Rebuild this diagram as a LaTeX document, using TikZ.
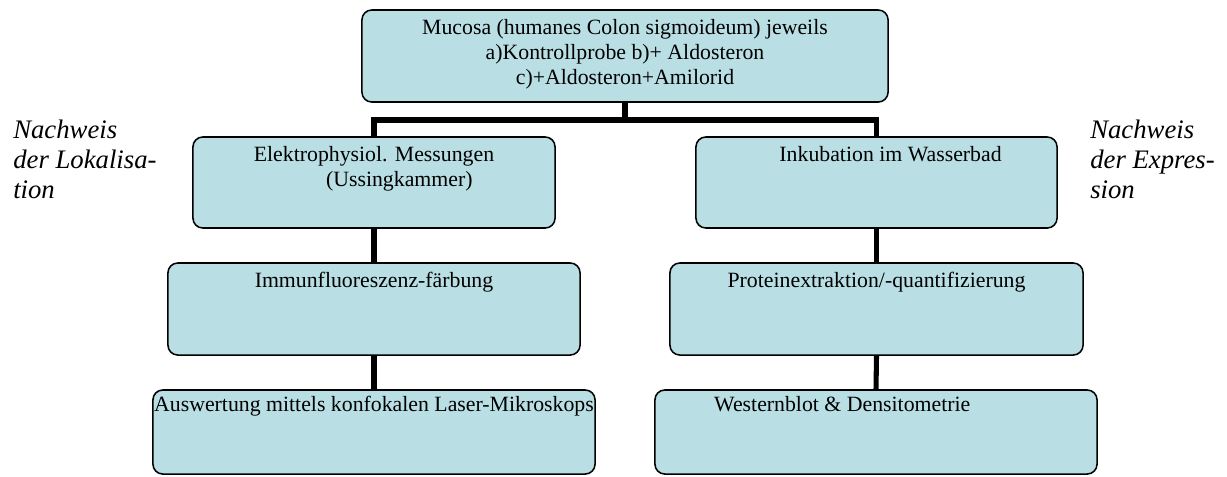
\documentclass[tikz,border=0pt]{standalone}
\usepackage{fontspec}
\setmainfont{Liberation Serif}
\usepackage{tikz}

\definecolor{kastenblau}{RGB}{185,223,228}
\newcommand\kastenschrift{\fontsize{15.5}{17.8}\selectfont}
\newcommand\seitenschrift{\fontsize{19}{21.3}\selectfont\itshape}

\tikzset{
  kasten/.style={draw=black, line width=1.1pt, rounded corners=7pt, fill=kastenblau, inner sep=0pt},
  kastentext/.style={anchor=north, align=center, font=\kastenschrift, inner sep=0pt, yshift=-7pt},
  verbindung/.style={line width=3.6pt},
  seitentext/.style={anchor=north west, align=left, font=\seitenschrift, inner sep=0pt}
}

\begin{document}
\begin{tikzpicture}[x=0.025cm, y=-0.025cm]
  \useasboundingbox (0,0) rectangle (1227,476);

  % Ausgangsmaterial
  \node[kasten, minimum width=13.15cm, minimum height=2.3cm,
    label={[kastentext]north:Mucosa (humanes Colon sigmoideum) jeweils\\a)Kontrollprobe b)+ Aldosteron\\c)+Aldosteron+Amilorid}]
    (mucosa) at (625,56) {};

  % linker Zweig
  \node[kasten, minimum width=9.05cm, minimum height=2.275cm,
    label={[kastentext]north:Elektrophysiol. Messungen\\\hspace*{36pt}(Ussingkammer)}]
    (elektro) at (374,182.5) {};
  \node[kasten, minimum width=10.3cm, minimum height=2.3cm,
    label={[kastentext]north:Immunfluoreszenz-f\"arbung}]
    (immun) at (374,309) {};
  \node[kasten, minimum width=11.05cm, minimum height=2.1cm,
    label={[kastentext, yshift=2pt]north:Auswertung mittels konfokalen Laser-Mikroskops}]
    (auswertung) at (374,432) {};

  % rechter Zweig
  \node[kasten, minimum width=9.025cm, minimum height=2.275cm,
    label={[kastentext, xshift=10pt]north:Inkubation im Wasserbad}]
    (inkubation) at (876.5,182.5) {};
  \node[kasten, minimum width=10.325cm, minimum height=2.3cm,
    label={[kastentext]north:Proteinextraktion/-quantifizierung}]
    (protein) at (876.5,309) {};
  \node[kasten, minimum width=11.05cm, minimum height=2.1cm,
    label={[kastentext, xshift=-24pt, yshift=2pt]north:Westernblot \& Densitometrie}]
    (western) at (876,432) {};

  % Seitenbeschriftung
  \node[seitentext] (lokal) at (13,120) {Nachweis\\der Lokalisa-\\tion};
  \node[seitentext] (expr) at (1090,120) {Nachweis\\der Expres-\\sion};

  % Verbindungen
  \coordinate (gabel) at (625,120);
  \draw[verbindung] (mucosa.south) -- (gabel);
  \draw[verbindung] (elektro.north) |- (gabel) -| (inkubation.north);
  \draw[verbindung] (elektro.south) -- (immun.north);
  \draw[verbindung] (immun.south) -- (auswertung.north);
  \draw[verbindung] (inkubation.south) -- (protein.north);
  \draw[verbindung] (protein.south) -- (western.north);
\end{tikzpicture}
\end{document}
